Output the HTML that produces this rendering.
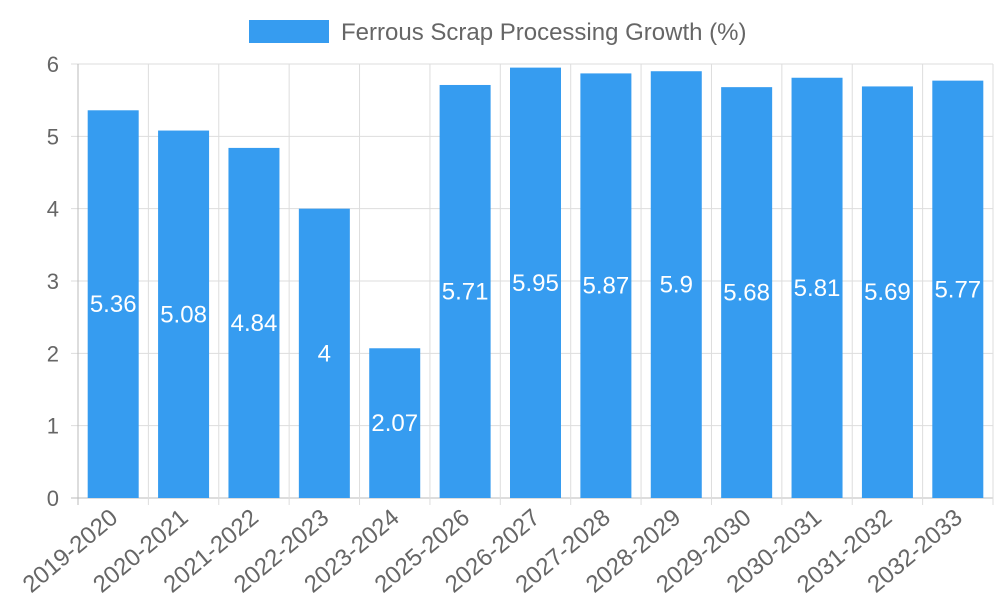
<!DOCTYPE html>
<html><head><meta charset="utf-8"><style>
body{margin:0;background:#fff;}
svg{font-family:"Liberation Sans",sans-serif;}
</style></head><body>
<svg id="chart" width="1000" height="600">
<g>
<rect x="249" y="20" width="80" height="23" fill="#369cf0"/>
<text x="341" y="40" font-size="24" fill="#666">Ferrous Scrap Processing Growth (%)</text>
</g>
</svg>
<script>
const categories=["2019-2020","2020-2021","2021-2022","2022-2023","2023-2024","2025-2026","2026-2027","2027-2028","2028-2029","2029-2030","2030-2031","2031-2032","2032-2033"];
const values=[5.36,5.08,4.84,4,2.07,5.71,5.95,5.87,5.9,5.68,5.81,5.69,5.77];
const yTicks=[0,1,2,3,4,5,6];
const svg=document.getElementById('chart');
const NS='http://www.w3.org/2000/svg';
const L=78,R=993,T=64,B=498,ymax=6;
const bw=(R-L)/categories.length;
const y=v=>B-(v/ymax)*(B-T);
const xc=i=>L+bw*(i+0.5);
function mk(t,a){const e=document.createElementNS(NS,t);for(const k in a)e.setAttribute(k,a[k]);svg.appendChild(e);return e;}
yTicks.forEach(v=>{
 const g=mk('line',{x1:71,x2:R,y1:y(v),y2:y(v),stroke:v===0?'#bbb':'#ddd','stroke-width':1});
 
 
 const t=mk('text',{x:59,y:y(v)+8,'font-size':22,fill:'#666','text-anchor':'end'});
 t.textContent=v;
 
 
});
for(let i=0;i<=categories.length;i++){
 const x=L+bw*i;
 const g=mk('line',{x1:x,x2:x,y1:T,y2:B+7,stroke:i===0?'#bbb':'#ddd','stroke-width':1});
 
 
}
categories.forEach((c,i)=>{
 const w=51;
 const r=mk('rect',{x:xc(i)-w/2,y:y(values[i]),width:w,height:B-y(values[i]),fill:'#369cf0'});
 
 
 const t=mk('text',{x:xc(i),y:(y(values[i])+B)/2+8,'font-size':24,fill:'#fff','text-anchor':'middle'});
 t.textContent=values[i];
 
 
 const ax=xc(i)+6, ay=B+22;
 const xl=mk('text',{x:ax,y:ay,'font-size':24,fill:'#666','text-anchor':'end',transform:`rotate(-40 ${ax} ${ay})`});
 xl.textContent=c;
 
 
});
</script>
</body></html>
